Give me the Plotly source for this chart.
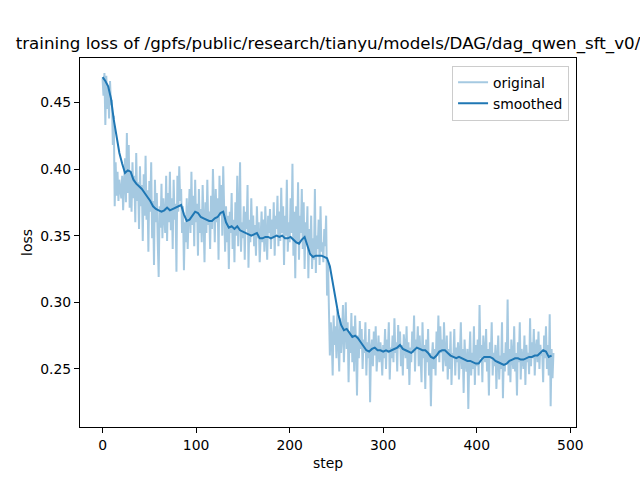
import plotly.graph_objects as go

title_text = "training loss of /gpfs/public/research/tianyu/models/DAG/dag_qwen_sft_v0/"

original = [
    0.468, 0.455, 0.472, 0.433, 0.470, 0.445, 0.462, 0.438, 0.466, 0.448,
    0.452, 0.418, 0.440, 0.372, 0.405, 0.380, 0.398, 0.376, 0.392, 0.385,
    0.378, 0.395, 0.369, 0.388, 0.408, 0.375, 0.427, 0.382, 0.418, 0.371,
    0.398, 0.368, 0.405, 0.378, 0.395, 0.360, 0.412, 0.376, 0.390, 0.355,
    0.402, 0.372, 0.388, 0.346, 0.396, 0.365, 0.410, 0.362, 0.384, 0.338,
    0.391, 0.368, 0.405, 0.348, 0.376, 0.328, 0.392, 0.360, 0.382, 0.345,
    0.319, 0.372, 0.356, 0.389, 0.348, 0.378, 0.365, 0.352, 0.395, 0.346,
    0.382, 0.360, 0.398, 0.354, 0.378, 0.340, 0.392, 0.362, 0.374, 0.323,
    0.395, 0.368, 0.402, 0.376, 0.385, 0.352, 0.372, 0.324, 0.360, 0.345,
    0.378, 0.340, 0.366, 0.385, 0.352, 0.398, 0.358, 0.380, 0.342, 0.392,
    0.360, 0.374, 0.335, 0.385, 0.352, 0.370, 0.345, 0.388, 0.362, 0.330,
    0.375, 0.352, 0.392, 0.358, 0.368, 0.340, 0.380, 0.355, 0.400, 0.362,
    0.345, 0.385, 0.360, 0.378, 0.332, 0.395, 0.365, 0.388, 0.350, 0.402,
    0.358, 0.338, 0.372, 0.345, 0.365, 0.325, 0.368, 0.352, 0.382, 0.340,
    0.362, 0.330, 0.375, 0.350, 0.395, 0.342, 0.365, 0.405, 0.338, 0.360,
    0.348, 0.372, 0.332, 0.368, 0.355, 0.388, 0.326, 0.362, 0.345, 0.378,
    0.350, 0.365, 0.342, 0.358, 0.335, 0.372, 0.348, 0.360, 0.330, 0.355,
    0.368, 0.345, 0.362, 0.338, 0.372, 0.350, 0.332, 0.365, 0.352, 0.370,
    0.340, 0.362, 0.348, 0.375, 0.335, 0.365, 0.355, 0.380, 0.342, 0.368,
    0.346, 0.386, 0.352, 0.372, 0.328, 0.365, 0.350, 0.392, 0.338, 0.360,
    0.345, 0.378, 0.352, 0.404, 0.335, 0.368, 0.318, 0.372, 0.345, 0.390,
    0.332, 0.365, 0.352, 0.385, 0.340, 0.375, 0.325, 0.360, 0.345, 0.372,
    0.318, 0.355, 0.338, 0.365, 0.325, 0.348, 0.332, 0.385, 0.322, 0.350,
    0.340, 0.362, 0.328, 0.372, 0.338, 0.345, 0.330, 0.355, 0.342, 0.365,
    0.305, 0.330, 0.292, 0.260, 0.285, 0.272, 0.245, 0.290, 0.268, 0.282,
    0.258, 0.295, 0.270, 0.248, 0.288, 0.262, 0.275, 0.298, 0.255, 0.280,
    0.300, 0.265, 0.285, 0.240, 0.278, 0.262, 0.292, 0.255, 0.282, 0.248,
    0.290, 0.268, 0.230, 0.275, 0.258, 0.286, 0.265, 0.280, 0.250, 0.272,
    0.262, 0.285, 0.245, 0.270, 0.258, 0.280, 0.225, 0.265, 0.272, 0.252,
    0.278, 0.260, 0.282, 0.248, 0.268, 0.275, 0.255, 0.270, 0.262, 0.245,
    0.268, 0.258, 0.280, 0.250, 0.272, 0.262, 0.285, 0.242, 0.266, 0.258,
    0.275, 0.255, 0.288, 0.262, 0.270, 0.248, 0.283, 0.265, 0.278, 0.252,
    0.268, 0.245, 0.276, 0.262, 0.258, 0.282, 0.250, 0.270, 0.238, 0.266,
    0.255, 0.278, 0.262, 0.290, 0.248, 0.272, 0.265, 0.282, 0.252, 0.275,
    0.262, 0.240, 0.285, 0.258, 0.268, 0.235, 0.272, 0.255, 0.280, 0.245,
    0.262, 0.222, 0.258, 0.270, 0.250, 0.265, 0.245, 0.278, 0.260, 0.290,
    0.255, 0.282, 0.262, 0.272, 0.248, 0.285, 0.260, 0.252, 0.275, 0.242,
    0.265, 0.250, 0.278, 0.238, 0.262, 0.258, 0.280, 0.245, 0.266, 0.255,
    0.270, 0.242, 0.260, 0.285, 0.250, 0.265, 0.232, 0.272, 0.255, 0.248,
    0.265, 0.220, 0.258, 0.278, 0.245, 0.262, 0.250, 0.282, 0.238, 0.268,
    0.252, 0.272, 0.245, 0.298, 0.258, 0.268, 0.240, 0.275, 0.262, 0.255,
    0.280, 0.248, 0.265, 0.230, 0.270, 0.258, 0.285, 0.245, 0.262, 0.252,
    0.268, 0.235, 0.258, 0.275, 0.242, 0.260, 0.250, 0.285, 0.228, 0.262,
    0.248, 0.270, 0.255, 0.302, 0.245, 0.265, 0.240, 0.272, 0.258, 0.250,
    0.282, 0.248, 0.262, 0.230, 0.270, 0.255, 0.285, 0.242, 0.265, 0.258,
    0.250, 0.275, 0.238, 0.268, 0.255, 0.262, 0.246, 0.288, 0.252, 0.270,
    0.258, 0.280, 0.245, 0.265, 0.272, 0.255, 0.278, 0.250, 0.268, 0.260,
    0.262, 0.240, 0.275, 0.258, 0.282, 0.250, 0.268, 0.245, 0.291, 0.222,
    0.265, 0.243, 0.262,
]
original_steps = list(range(len(original)))

smoothed = [
    0.469, 0.466, 0.462, 0.453, 0.437, 0.423, 0.412, 0.404, 0.397, 0.399,
    0.398, 0.392, 0.389, 0.387, 0.385, 0.382, 0.379, 0.376, 0.372, 0.370,
    0.369, 0.368, 0.369, 0.371, 0.369, 0.370, 0.371, 0.372, 0.373, 0.366,
    0.361, 0.362, 0.365, 0.368, 0.367, 0.364, 0.363, 0.362, 0.361, 0.361,
    0.363, 0.364, 0.367, 0.368, 0.360, 0.356, 0.357, 0.355, 0.357, 0.354,
    0.353, 0.352, 0.351, 0.350, 0.351, 0.352, 0.348, 0.348, 0.349, 0.349,
    0.348, 0.349, 0.350, 0.349, 0.350, 0.348, 0.348, 0.349, 0.347, 0.345,
    0.344, 0.347, 0.349, 0.343, 0.336, 0.334, 0.335, 0.335, 0.335, 0.334,
    0.333, 0.327, 0.315, 0.302, 0.291, 0.283, 0.279, 0.280, 0.277, 0.274,
    0.275, 0.273, 0.270, 0.267, 0.264, 0.263, 0.265, 0.266, 0.264, 0.264,
    0.263, 0.264, 0.263, 0.264, 0.265, 0.266, 0.268, 0.265, 0.264, 0.263,
    0.262, 0.264, 0.266, 0.265, 0.264, 0.264, 0.262, 0.259, 0.258, 0.260,
    0.263, 0.264, 0.264, 0.262, 0.260, 0.259, 0.258, 0.259, 0.258, 0.257,
    0.256, 0.256, 0.255, 0.254, 0.254, 0.257, 0.259, 0.259, 0.259, 0.258,
    0.256, 0.255, 0.254, 0.253, 0.254, 0.256, 0.257, 0.258, 0.258, 0.257,
    0.257, 0.258, 0.259, 0.259, 0.260, 0.260, 0.262, 0.264, 0.263, 0.259,
    0.260,
]
smoothed_steps = list(range(0, 3 * len(smoothed), 3))

x_ticks = [0, 100, 200, 300, 400, 500]
y_ticks = [0.25, 0.30, 0.35, 0.40, 0.45]

BLUE = "#1f77b4"
FONT = "DejaVu Sans"

fig = go.Figure()
fig.add_trace(go.Scatter(
    x=original_steps, y=original, mode="lines", name="original",
    line=dict(color="rgba(31,119,180,0.4)", width=2),
))
fig.add_trace(go.Scatter(
    x=smoothed_steps, y=smoothed, mode="lines", name="smoothed",
    line=dict(color=BLUE, width=2),
))

axis_common = dict(
    showline=True, linecolor="black", linewidth=1, mirror=True,
    ticks="outside", ticklen=5, tickwidth=1, tickcolor="black",
    showgrid=False, zeroline=False,
    tickfont=dict(family=FONT, size=13.9, color="black"),
)

fig.update_layout(
    width=640, height=480,
    margin=dict(l=80, r=64, t=58, b=53),
    paper_bgcolor="white", plot_bgcolor="white",
    font=dict(family=FONT, color="black"),
    title=dict(
        text=title_text, x=328 / 640, xref="container", xanchor="center",
        y=1 - 43 / 480, yref="container", yanchor="middle",
        font=dict(family=FONT, size=16.7, color="black"),
    ),
    xaxis=dict(
        range=[-24.1, 506.1], tickvals=x_ticks,
        ticktext=[str(v) for v in x_ticks],
        title=dict(text="step", font=dict(family=FONT, size=13.9), standoff=6),
        **axis_common,
    ),
    yaxis=dict(
        range=[0.2064, 0.4833], tickvals=y_ticks,
        ticktext=[f"{v:.2f}" for v in y_ticks],
        title=dict(text="loss", font=dict(family=FONT, size=13.9), standoff=4),
        **axis_common,
    ),
    legend=dict(
        x=0.986, y=0.979, xanchor="right", yanchor="top",
        bgcolor="rgba(255,255,255,0.8)", bordercolor="#cccccc", borderwidth=1,
        font=dict(family=FONT, size=13.9, color="black"),
        tracegroupgap=0, itemwidth=30,
    ),
    showlegend=True,
)

fig.write_html("out.html")
